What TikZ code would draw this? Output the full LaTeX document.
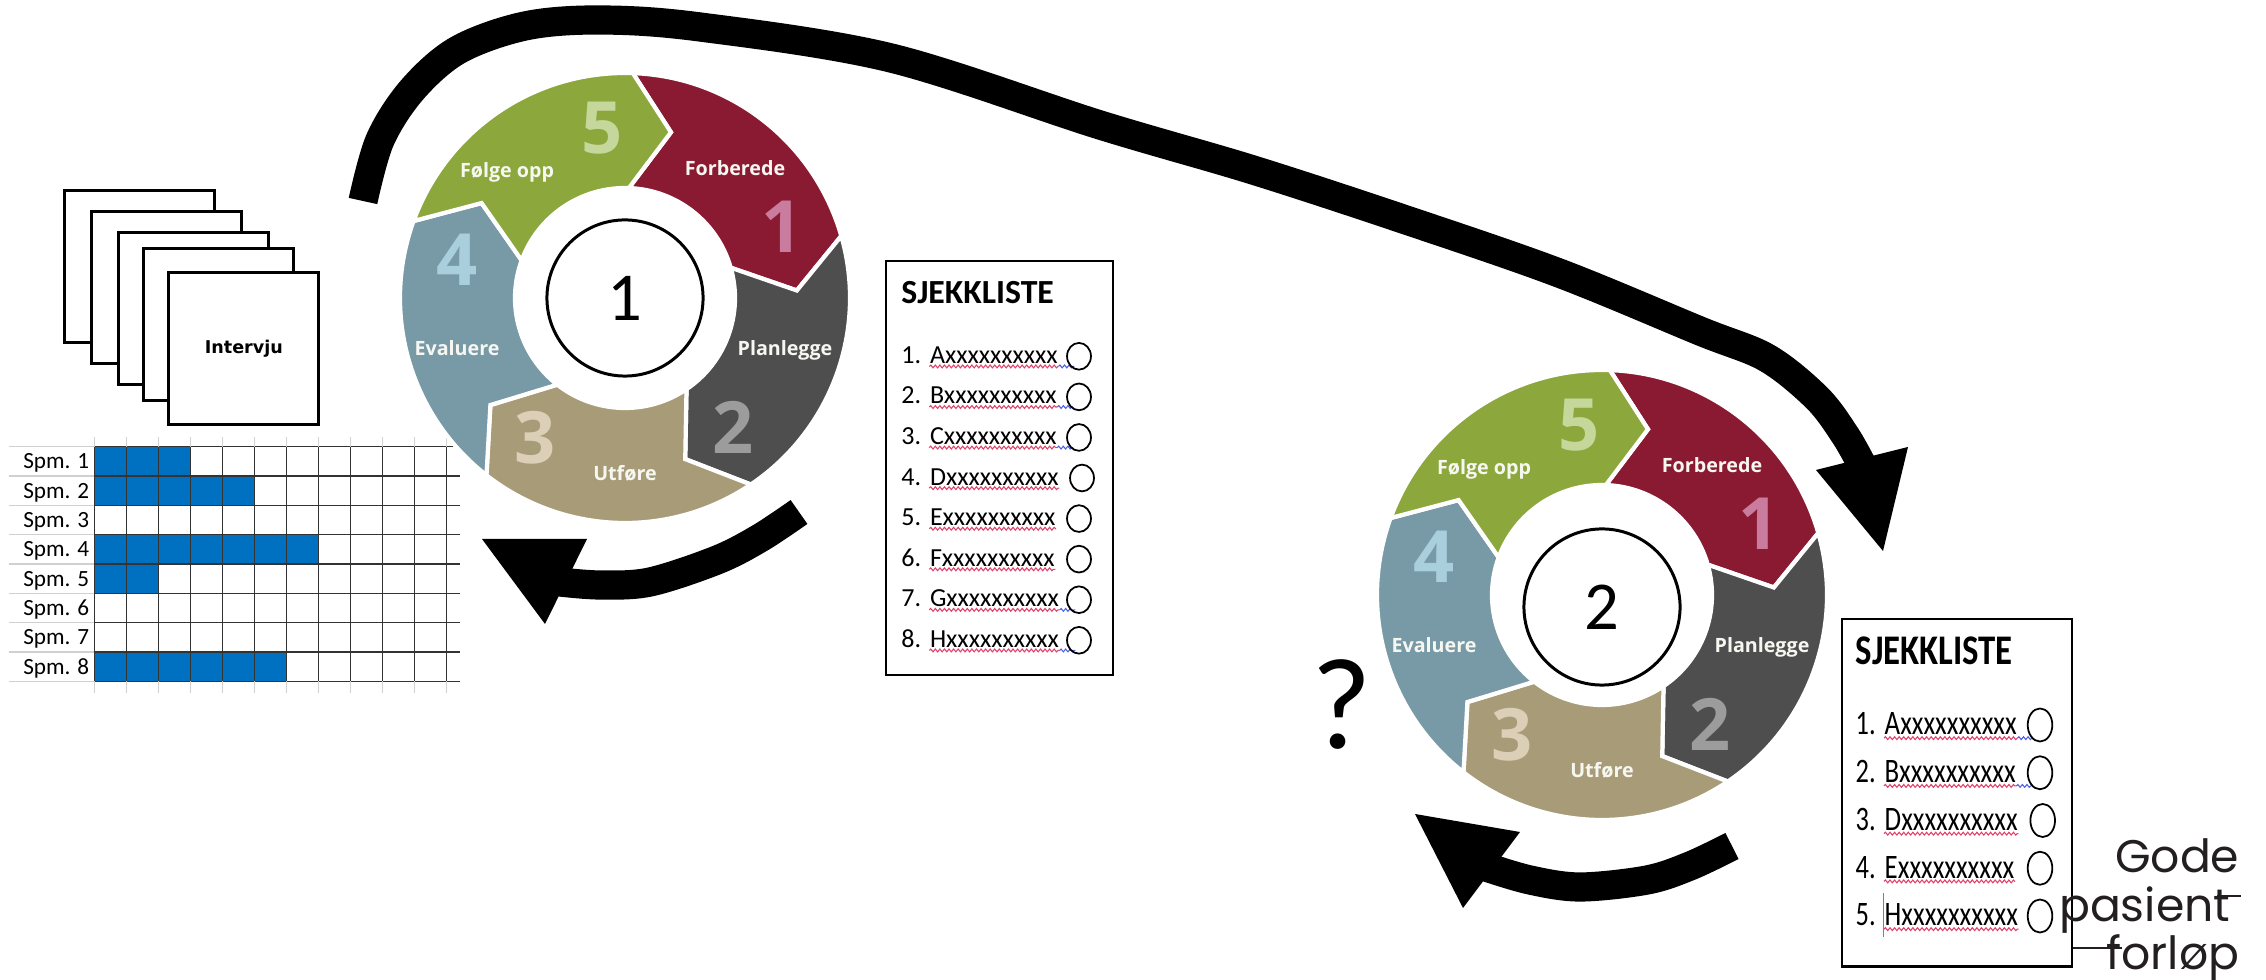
\documentclass[tikz,border=0pt]{standalone}
\usepackage{fontspec}
\setmainfont{Carlito}
\newfontfamily\ringfont{Open Sans}
\newfontfamily\logofont{Poppins}
\newfontfamily\ivfont{DejaVu Sans}
\usetikzlibrary{decorations.pathmorphing,shapes.geometric}
\definecolor{cRed}{HTML}{8A1A32}
\definecolor{cDark}{HTML}{4E4E4E}
\definecolor{cTan}{HTML}{A89C78}
\definecolor{cBlue}{HTML}{7899A6}
\definecolor{cGreen}{HTML}{8CA73C}
\definecolor{nRed}{HTML}{C97C9E}
\definecolor{nDark}{HTML}{9C9C9C}
\definecolor{nTan}{HTML}{DCCFB8}
\definecolor{nBlue}{HTML}{A9CEDC}
\definecolor{nGreen}{HTML}{C6D79C}
\definecolor{xlblue}{HTML}{0070C0}
\definecolor{squigred}{HTML}{E0406A}
\definecolor{squigblue}{HTML}{4F5FE0}
\definecolor{logogray}{HTML}{231F20}
\definecolor{lightgrid}{HTML}{D0D0D0}
\definecolor{ringtext}{HTML}{F7F7F2}
\tikzset{
  dg/.style={font=\ringfont\bfseries\fontsize{20.5}{21}\selectfont, inner sep=0},
  rl/.style={text=ringtext, font=\ringfont\bfseries\fontsize{5.6}{6}\selectfont, inner sep=0, anchor=base},
  sheet/.style={draw, fill=white, line width=0.85pt, minimum width=42.7pt, minimum height=43.2pt, inner sep=0, anchor=north west},
  ckt/.style={font=\fontsize{7.4}{8}\selectfont, inner sep=0, anchor=base west},
  ckt2/.style={font=\fontsize{7.5}{8}\selectfont, inner sep=0, anchor=base west},
  ckbox/.style={draw, line width=0.7pt, inner sep=0, anchor=north west},
  cko/.style={draw, ellipse, line width=0.5pt, minimum width=6.8pt, minimum height=7.6pt, inner sep=0},
  cko2/.style={draw, ellipse, line width=0.5pt, minimum width=7pt, minimum height=9.4pt, inner sep=0},
  sqr/.style={draw=squigred, line width=0.3pt, decorate, decoration={snake, amplitude=0.4pt, segment length=1.3pt}},
  sqb/.style={draw=squigblue, line width=0.3pt, decorate, decoration={snake, amplitude=0.4pt, segment length=1.3pt}},
  thick arrow/.style={line width=8.3pt},
  spm/.style={font=\fontsize{6.6}{7}\selectfont, inner sep=0, anchor=base east},
  logo/.style={font=\logofont\fontsize{13}{14}\selectfont, text=logogray, inner sep=0, anchor=base east},
}
\newcommand\drawring[5]{%
\begin{scope}[shift={(#1,#2)}]
\foreach \sa/\sc in {-88/cRed,-16/cDark,56/cTan,128/cBlue,-160/cGreen}{%
  \pgfmathsetmacro\sb{\sa+72}%
  \path[fill=\sc, draw=white, line width=1.2pt]
    (\sa:225) arc[start angle=\sa, end angle=\sb, radius=225]
    -- ({\sb+13.5}:172) -- (\sb:110)
    arc[start angle=\sb, end angle=\sa, radius=110]
    -- ({\sa+13.5}:172) -- cycle;
}
\node[dg, text=nGreen] (#3d5) at (-23,-170) {5};
\node[dg, text=nRed] (#3d1) at (157,-71) {1};
\node[dg, text=nDark] (#3d2) at (108,129) {2};
\node[dg, text=nTan] (#3d3) at (-90,140) {3};
\node[dg, text=nBlue] (#3d4) at (-168,-38) {4};
\node[rl] (#3l5) at (-118,-120) {Følge opp};
\node[rl] (#3l1) at (110,-122) {Forberede};
\node[rl] (#3l2) at (160,58) {Planlegge};
\node[rl] (#3l3) at (0,183) {Utføre};
\node[rl] (#3l4) at (-168,58) {Evaluere};
\node[draw, circle, line width=0.85pt, minimum size=44.4pt, inner sep=0, font=\fontsize{19.5}{20}\selectfont] (#3c) at (0,#5) {#4};
\end{scope}}
\begin{document}
\begin{tikzpicture}[x=0.01cm, y=-0.01cm]
\useasboundingbox (0,0) rectangle (2266,980);
\fill[white] (0,0) rectangle (2266,980);

% interview sheets
\node[sheet] (s1) at (62.7,189.3) {};
\node[sheet] (s2) at (90,210) {};
\node[sheet] (s3) at (117.3,230.7) {};
\node[sheet] (s4) at (142.3,246.7) {};
\node[sheet, font=\ivfont\bfseries\fontsize{5}{6}\selectfont] (s5) at (167.3,271.3) {Intervju};

% table
\foreach \r/\n in {1/3,2/5,3/0,4/7,5/2,6/0,7/0,8/6}{
  \pgfmathsetmacro\ty{446.7+29.33*(\r-1)}
  \ifnum\n>0 \fill[xlblue] (94.7,\ty) rectangle ({94.7+32*\n},{\ty+29.33}); \fi
  \node[spm] (spm\r) at (90,{\ty+22}) {Spm. \r};
}
\foreach \i in {0,...,8}{
  \pgfmathsetmacro\hy{446.7+29.33*\i}
  \draw[lightgrid, line width=0.4pt] (9,\hy) -- (94.7,\hy);
  \draw[black!80, line width=0.35pt] (94.7,\hy) -- (460,\hy);
}
\foreach \k in {0,...,11}{
  \pgfmathsetmacro\vx{94.7+32*\k}
  \draw[lightgrid, line width=0.35pt] (\vx,436.7) -- (\vx,446.7);
  \draw[black!80, line width=0.35pt] (\vx,446.7) -- (\vx,681.3);
  \draw[lightgrid, line width=0.35pt] (\vx,681.3) -- (\vx,692.7);
}

% rings
\drawring{625}{298}{r1}{1}{0}
\drawring{1602}{595}{r2}{2}{12}

% checklist 1
\node[ckbox, minimum width=64.5pt, minimum height=117.6pt] (ck1) at (885,260) {};
\node[font=\bfseries\fontsize{9.6}{10}\selectfont, inner sep=0, anchor=base west] (ck1t) at (900.7,303.3) {SJEKKLISTE};
\foreach \i/\lt/\fl/\cx in {1/A/1/1079,2/B/1/1079,3/C/1/1079,4/D/0/1082,5/E/0/1079,6/F/0/1079,7/G/1/1079,8/H/1/1079}{
  \pgfmathsetmacro\bl{363.3+40.57*(\i-1)}
  \node[ckt] (c1n\i) at (900.7,\bl) {\i.};
  \node[ckt] (c1t\i) at (929.3,\bl) {\lt xxxxxxxxxx};
  \draw[sqr] ([yshift=-0.9pt]c1t\i.base west) -- ([yshift=-0.9pt]c1t\i.base east);
  \ifnum\fl=1 \draw[sqb] ([yshift=-0.9pt]c1t\i.base east) -- ++(4.5pt,0); \fi
  \node[cko] (c1o\i) at (\cx,{\bl-7}) {};
}

% checklist 2
\node[ckbox, minimum width=65.35pt, minimum height=98.8pt] (ck2) at (1841,617.7) {};
\node[font=\bfseries\fontsize{9.6}{10}\selectfont, inner sep=0, anchor=base west] (ck2t) at (1855,665) {\scalebox{1.03}[1.25]{SJEKKLISTE}};
\foreach \i/\lt/\fl/\cx in {1/A/1/2040,2/B/1/2040,3/D/0/2042.7,4/E/0/2040,5/H/0/2040}{
  \pgfmathsetmacro\bl{735+47.75*(\i-1)}
  \node[ckt2] (c2n\i) at (1855,\bl) {\scalebox{1}[1.3]{\i.}};
  \node[ckt2] (c2t\i) at (1884,\bl) {\scalebox{1.02}[1.3]{\lt xxxxxxxxxx}};
  \draw[sqr] ([yshift=-0.9pt]c2t\i.base west) -- ([yshift=-0.9pt]c2t\i.base east);
  \ifnum\fl=1 \draw[sqb] ([yshift=-0.9pt]c2t\i.base east) -- ++(4.5pt,0); \fi
  \node[cko2] (c2o\i) at (\cx,{\bl-10}) {};
}
\draw[gray, line width=0.3pt] (1883.3,893) -- (1883.3,936.7);

% logo
\node[logo] (lg1) at (2240,873) {Gode};
\node[logo] (lg2) at (2231,921.7) {pasient};
\node[logo] (lg3) at (2240,970) {forløp};
\coordinate (lgt) at (2241,896);
\coordinate (lgf) at (2122,948);
\draw[logogray, line width=0.6pt] ([xshift=-4pt]lg2.east |- lgt) -- (lgt);
\draw[logogray, line width=0.6pt] (ck2.east |- lgf) -- (lgf);

% question mark
\node[font=\fontsize{37}{38}\selectfont, inner sep=0] (q) at (1342,705) {?};

% big arrow from cycle 1 to cycle 2
\coordinate (ba0) at (363,201);
\coordinate (ba1) at (1862,465);
\draw[thick arrow] plot[smooth, tension=0.55] coordinates {(ba0) (380,140) (412,90) (458,50) (525,26) (600,20) (700,27) (891,58) (1100,125) (1253,170) (1406,220) (1559,273) (1700,331) (1767,358) (1817,398) (1845,435) (ba1)};
\fill (1816,470) -- (1908,447) -- (1883,551) -- cycle;

% small arrow under cycle 1
\coordinate (sa0) at (799,512);
\coordinate (sa1) at (560,582);
\draw[thick arrow] plot[smooth, tension=0.55] coordinates {(sa0) (760,538) (717,560) (650,582) (600,585) (sa1)};
\fill (482,539) -- (587,539) -- (545,624) -- cycle;

% small arrow under cycle 2
\coordinate (sb0) at (1732,846);
\coordinate (sb1) at (1486,867);
\draw[thick arrow] plot[smooth, tension=0.55] coordinates {(sb0) (1690,866) (1647,880) (1580,887) (1530,880) (sb1)};
\fill (1415,814) -- (1520,832) -- (1463,908) -- cycle;
\end{tikzpicture}
\end{document}
